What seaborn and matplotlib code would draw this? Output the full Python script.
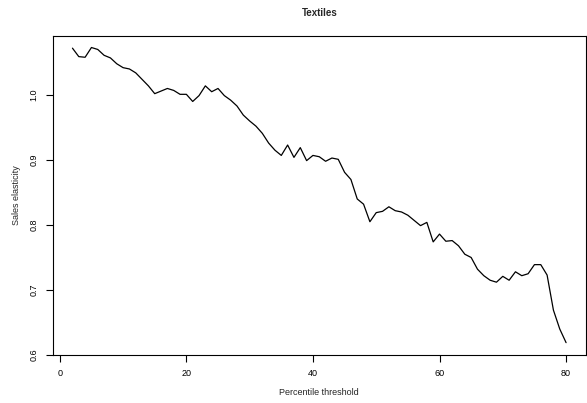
import matplotlib
matplotlib.use("Agg")
import matplotlib.pyplot as plt
import seaborn as sns
import pandas as pd

# Percentile thresholds and sales elasticity
thresholds = list(range(2, 81))
elasticity = [
    1.072, 1.059, 1.058, 1.073, 1.070, 1.061, 1.057, 1.048, 1.042, 1.040,
    1.034, 1.024, 1.014, 1.002, 1.006, 1.010, 1.007, 1.001, 1.001, 0.990,
    0.999, 1.014, 1.005, 1.010, 0.999, 0.992, 0.983, 0.969, 0.960, 0.952,
    0.941, 0.926, 0.915, 0.907, 0.923, 0.904, 0.919, 0.899, 0.907, 0.905,
    0.898, 0.903, 0.901, 0.881, 0.870, 0.840, 0.832, 0.805, 0.819, 0.821,
    0.828, 0.822, 0.820, 0.815, 0.807, 0.799, 0.804, 0.774, 0.786, 0.775,
    0.776, 0.768, 0.755, 0.750, 0.732, 0.722, 0.715, 0.712, 0.721, 0.715,
    0.728, 0.722, 0.725, 0.739, 0.739, 0.723, 0.669, 0.640, 0.619,
]
x_ticks = [0, 20, 40, 60, 80]
y_ticks = [0.6, 0.7, 0.8, 0.9, 1.0]
y_tick_labels = ["0.6", "0.7", "0.8", "0.9", "1.0"]
title = "Textiles"
x_label = "Percentile threshold"
y_label = "Sales elasticity"

sns.set_style("ticks")
plt.rcParams["font.family"] = ["Liberation Sans", "DejaVu Sans"]

df = pd.DataFrame({"threshold": thresholds, "elasticity": elasticity})

fig = plt.figure(figsize=(5.87, 4.03), dpi=100)
ax = fig.add_axes([0.0898, 0.1191, 0.998 - 0.0898, 0.9114 - 0.1191])
sns.lineplot(data=df, x="threshold", y="elasticity", ax=ax,
             color="black", linewidth=0.9)

xr = max(thresholds) - min(thresholds)
ax.set_xlim(min(thresholds) - 0.04 * xr, max(thresholds) + 0.04 * xr)
yr = max(elasticity) - min(elasticity)
ax.set_ylim(min(elasticity) - 0.04 * yr, max(elasticity) + 0.04 * yr)

ax.set_xticks(x_ticks)
ax.set_xticklabels([str(t) for t in x_ticks])
ax.set_yticks(y_ticks)
ax.set_yticklabels(y_tick_labels, rotation=90, va="center")
ax.tick_params(axis="both", labelsize=6.5, length=5, width=0.8,
               color="black", labelcolor="black", pad=5)
for s in ax.spines.values():
    s.set_visible(True)
    s.set_color("black")
    s.set_linewidth(0.8)

ax.set_xlabel(x_label, fontsize=6.5, labelpad=7)
ax.set_ylabel(y_label, fontsize=6.5, labelpad=6)
ax.set_title(title, fontsize=7, fontweight="bold", pad=14)

fig.savefig("out.png", dpi=100)
